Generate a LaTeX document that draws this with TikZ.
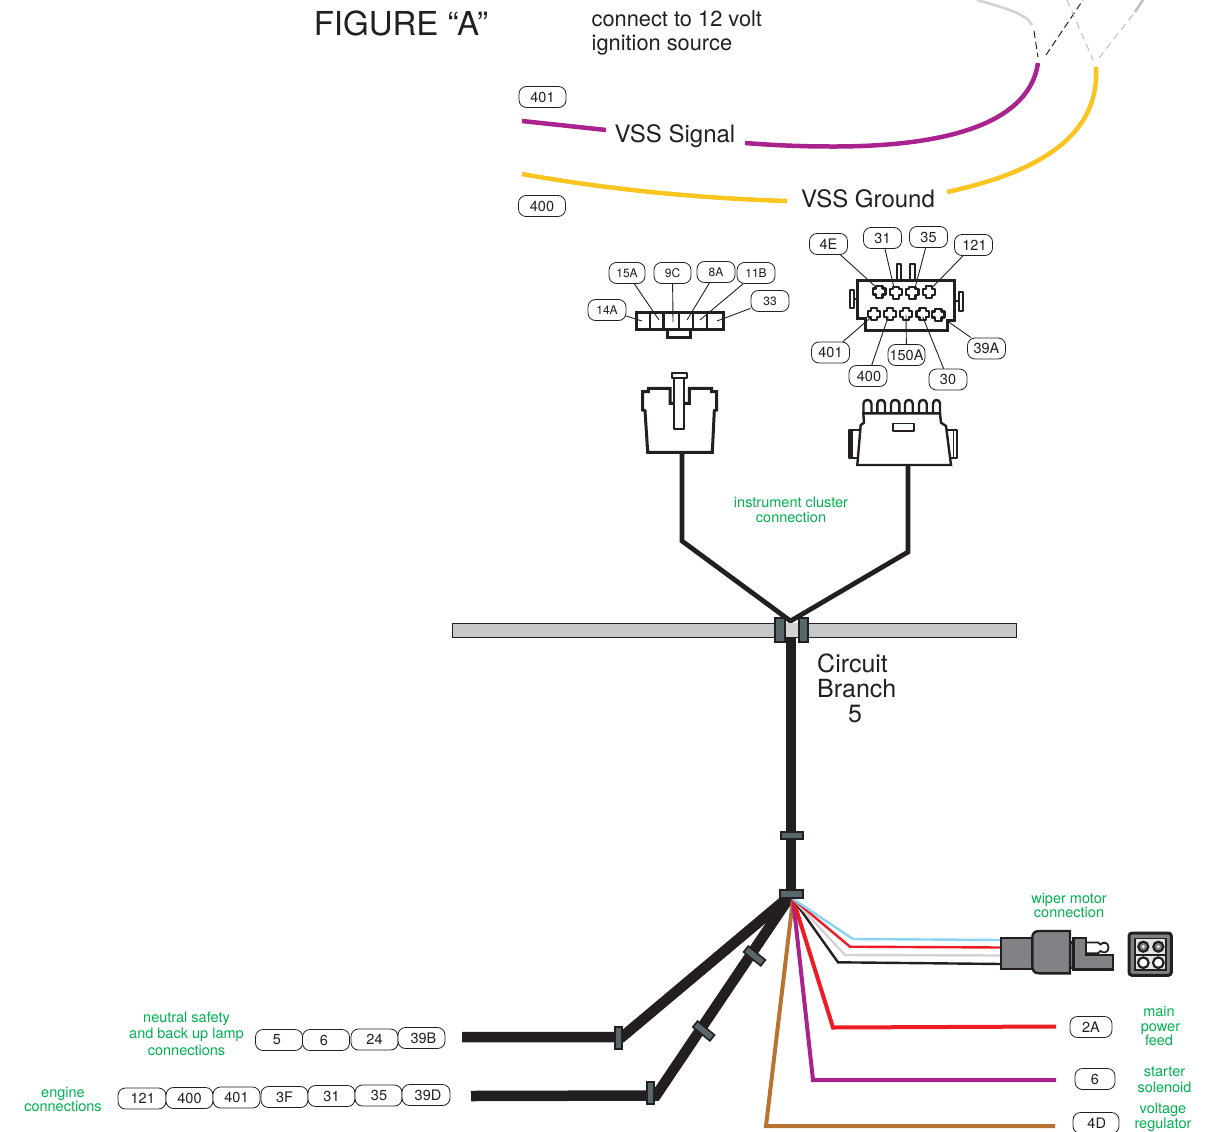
\documentclass[tikz,border=0pt]{standalone}
\usepackage{fontspec}
\setmainfont{TeX Gyre Heros}
\definecolor{grn}{HTML}{00B050}
\definecolor{purp}{HTML}{A9228E}
\definecolor{yel}{HTML}{FAC520}
\definecolor{wred}{HTML}{ED1C24}
\definecolor{brn}{HTML}{B87333}
\definecolor{lblue}{HTML}{8DD3F3}
\definecolor{lgray}{HTML}{D1D3D4}
\definecolor{mgray}{HTML}{BCBEC0}
\definecolor{ink}{HTML}{231F20}
\definecolor{clipg}{HTML}{58686A}
\definecolor{body}{HTML}{808285}
\tikzset{
  pill/.style={draw=ink,line width=.8pt,rounded corners=7.5pt,minimum height=21pt,inner sep=0pt,font=\fontsize{14.5}{16}\selectfont,text=ink,fill=white},
  tinypill/.style={pill,font=\fontsize{12}{14}\selectfont},
  leader/.style={draw=ink,line width=.9pt},
  housing/.style={draw=ink,line width=3pt,fill=white,line join=miter},
  thinhousing/.style={draw=ink,line width=2pt,fill=white,line join=round},
  harness/.style={draw=ink,line width=4.8pt,line join=miter},
  trunk/.style={draw=ink,line width=10.5pt,line join=miter},
  clipbox/.style={draw=ink,line width=1.6pt,fill=clipg,inner sep=0pt},
  grnlabel/.style={text=grn,font=\fontsize{14.5}{14.7}\selectfont,align=center,inner sep=0pt},
  biglabel/.style={text=ink,font=\fontsize{24}{25}\selectfont,inner sep=0pt},
  colwire/.style={line width=4pt,line join=miter},
  wipwire/.style={line width=2.4pt,line join=miter},
  darkbody/.style={draw=ink,line width=2.4pt,fill=body,line join=miter},
}
\newcommand{\myterm}[2]{\draw[shift={(#1,#2)},draw=ink,line width=2.2pt,fill=white,line join=round]
  (-3.2,-6)--(3.2,-6)--(3.2,-3.5)--(6.2,-3.5)--(6.2,2.5)--(3.2,2.5)--(3.2,6)--(-3.2,6)--(-3.2,2.5)--(-6.2,2.5)--(-6.2,-3.5)--(-3.2,-3.5)--cycle;}
\begin{document}
\begin{tikzpicture}[x=1pt,y=-1pt]
\useasboundingbox (0,0) rectangle (1226,1132);

% ---------- top wires
\coordinate (gA) at (977,0); \coordinate (gB) at (1032,25);
\coordinate (dA) at (1034,31); \coordinate (dB) at (1038,57);
\coordinate (dC) at (1046,55); \coordinate (dD) at (1083,0);
\coordinate (eA) at (1067,0); \coordinate (eB) at (1093,60);
\coordinate (eC) at (1099,58); \coordinate (eD) at (1135,12);
\coordinate (eE) at (1143,0);
\draw[lgray,line width=2.6pt] (gA) .. controls (1005,8) and (1027,14) .. (gB);
\draw[ink,line width=1pt,dash pattern=on 7pt off 4pt] (dA) -- (dB);
\draw[ink,line width=1pt,dash pattern=on 7pt off 4pt] (dC) -- (dD);
\draw[mgray,line width=1pt,dash pattern=on 7pt off 5pt] (eA) -- (eB);
\draw[mgray,line width=1pt,dash pattern=on 7pt off 5pt] (eC) -- (eD);
\draw[mgray,line width=2.6pt] (eD) -- (eE);

% ---------- VSS wires
\coordinate (pA) at (1038,63); \coordinate (pB) at (745,143);
\coordinate (pC) at (606,130); \coordinate (pD) at (522,121);
\coordinate (yA) at (1096,67); \coordinate (yB) at (947,192);
\coordinate (yC) at (787,201); \coordinate (yD) at (522,174);
\draw[purp,line width=4.5pt] (pA) .. controls (1030,118) and (960,147) .. (830,146.5) .. controls (800,146.5) and (770,145) .. (pB);
\draw[purp,line width=4.5pt] (pC) -- (pD);
\draw[yel,line width=4.5pt] (yA) .. controls (1100,135) and (1040,172) .. (yB);
\draw[yel,line width=4.5pt] (yC) .. controls (690,198) and (600,188) .. (yD);

\node[biglabel,text=ink,font=\fontsize{33}{34}\selectfont] (fig) at (401,23) {FIGURE “A”};
\node[text=ink,font=\fontsize{21.8}{24}\selectfont,align=left,inner sep=0pt,anchor=north west] (ign) at (591.5,10.5) {connect to 12 volt\\ignition source};
\node[biglabel] (vsss) at (675,136) {VSS Signal};
\node[biglabel] (vssg) at (868,199) {VSS Ground};
\node[pill,minimum width=47pt] (p401a) at (542.5,97) {401};
\node[pill,minimum width=47pt] (p400a) at (542,206) {400};

% ---------- small left connector diagram
\draw[housing] (667,329) rectangle (690,337);
\draw[housing] (636.5,312) rectangle (723,329);
\coordinate (dv1t) at (650,312); \coordinate (dv1b) at (650,329);
\coordinate (dv2t) at (663.5,312); \coordinate (dv2b) at (663.5,329);
\coordinate (dv3t) at (679,312); \coordinate (dv3b) at (679,329);
\coordinate (dv4t) at (693,312); \coordinate (dv4b) at (693,329);
\coordinate (dv5t) at (707,312); \coordinate (dv5b) at (707,329);
\foreach \d in {1,...,5}{\draw[ink,line width=2.2pt] (dv\d t) -- (dv\d b);}
\coordinate (t14A) at (642,321); \coordinate (t15A) at (659,320);
\coordinate (t9C) at (673,322); \coordinate (t8A) at (687,320);
\coordinate (t11B) at (700,320); \coordinate (t33) at (717,321);
\node[tinypill,minimum width=36pt] (l15A) at (627,273) {15A};
\node[tinypill,minimum width=37pt] (l9C) at (672.5,273) {9C};
\node[tinypill,minimum width=38pt] (l8A) at (716,272) {8A};
\node[tinypill,minimum width=38pt] (l11B) at (756,273) {11B};
\node[tinypill,minimum width=38pt] (l33) at (770,301) {33};
\node[tinypill,minimum width=38pt] (l14A) at (607,310) {14A};
\foreach \n in {14A,15A,9C,8A,11B,33}{\draw[leader] (l\n) -- (t\n);}

% ---------- small right connector diagram
\draw[thinhousing] (897,264) rectangle (901,280);
\draw[thinhousing] (910,264) rectangle (915,280);
\coordinate (stemLa) at (852,299); \coordinate (stemLb) at (858,299);
\coordinate (stemRa) at (954,301); \coordinate (stemRb) at (961,301);
\draw[ink,line width=2pt] (stemLa) -- (stemLb) (stemRa) -- (stemRb);
\draw[thinhousing] (850,290) rectangle (854,308);
\draw[thinhousing] (959,292) rectangle (962.7,311);
\draw[housing] (857.3,280) -- (954.5,280) -- (954.5,320) -- (947.3,320) -- (947.3,330) -- (865,330) -- (865,318.3) -- (857.3,318.3) -- cycle;
\myterm{879.3}{292}\myterm{896}{292.7}\myterm{912.3}{292.7}\myterm{929}{292.3}
\myterm{874}{314.3}\myterm{890}{314.3}\myterm{906}{314.3}\myterm{922.7}{314.3}\myterm{938.3}{315}
\coordinate (r4E) at (877,288); \coordinate (r31) at (894,288);
\coordinate (r35) at (915,288); \coordinate (r121) at (931.7,288);
\coordinate (r401) at (871.7,316.7); \coordinate (r400) at (888.3,316.7);
\coordinate (r150A) at (906,315); \coordinate (r30) at (922.7,316.7);
\coordinate (r39A) at (948.3,321.7);
\node[pill,minimum width=38pt] (n4E) at (828.5,244) {4E};
\node[pill,minimum width=38pt] (n31) at (882.5,238) {31};
\node[pill,minimum width=38pt] (n35) at (928.5,237) {35};
\node[pill,minimum width=38pt] (n121) at (973.5,245) {\hspace{2pt}121};
\node[pill,minimum width=38pt] (n401) at (830.5,352.5) {401};
\node[pill,minimum width=38pt] (n400) at (868,376) {\hspace{2pt}400};
\node[pill,minimum width=37pt] (n150A) at (906.5,355) {150A};
\node[pill,minimum width=38pt] (n30) at (948,379.5) {30};
\node[pill,minimum width=38pt] (n39A) at (986.5,348.5) {39A};
\foreach \n in {4E,31,35,121,401,400,150A,30,39A}{\draw[leader] (n\n) -- (r\n);}

% ---------- large left plug
\coordinate (wLt) at (682,452); \coordinate (wLm) at (682,541);
\coordinate (wRt) at (908,465); \coordinate (wRm) at (908,552);
\coordinate (apex) at (790.5,621);
\draw[harness] (wLt) -- (wLm) -- (apex) -- (wRm) -- (wRt);

\draw[housing] (642.7,391.7) -- (648.3,391.7) -- (648.3,388.3) -- (670,388.3) -- (670,403.3) -- (674.3,403.3)
  -- (689.3,403.3) -- (689.3,388.3) -- (711.7,388.3) -- (711.7,391.7) -- (716.7,391.7) -- (716.7,410) -- (714.3,410.7)
  -- (712.3,452.3) -- (647.7,452.3) -- (645,410.7) -- (642.7,410) -- cycle;
\draw[thinhousing] (674.3,377) rectangle (684,429.3);
\draw[thinhousing] (672.3,372.7) rectangle (687.3,377.7);

% ---------- large right plug
\draw[thinhousing] (848.5,430) rectangle (860,458.3);
\draw[thinhousing] (947,430) rectangle (957.3,458.3);
\draw[ink,line width=3pt] (851,430) -- (851,458.3);
\draw[ink,line width=1.5pt] (953.5,430) -- (953.5,458.3);
\foreach \a/\b in {863.5/871.5,877.3/885,891/899.3,905/912.7,919/926.7,933/940}{
  \draw[ink,line width=2.4pt,fill=white] (\a,414) -- (\a,403.5) .. controls (\a,398.8) and (\b,398.8) .. (\b,403.5) -- (\b,414);}
\draw[housing,line width=2.4pt] (863.3,413.3) -- (864,422.7) -- (860.7,425) -- (857.3,465) -- (951,465) -- (946,426) -- (941,422.7) -- (940,413.3) -- cycle;
\draw[thinhousing,line width=1.8pt] (893,423.5) rectangle (914,431);

% ---------- bar and main trunk
\node[draw=ink,line width=.9pt,fill=mgray!85!white,minimum width=564pt,minimum height=14pt,inner sep=0pt] (bar) at (734,630) {};
\fill[lgray] (785,623) rectangle (799,637);
\coordinate (trunkTop) at (791,637);
\coordinate (hub) at (791,895);
\draw[ink,line width=10.8pt] (trunkTop) -- (hub);
\node[clipbox,minimum width=9.5pt,minimum height=24pt] (c1) at (780,630) {};
\node[clipbox,minimum width=8.5pt,minimum height=24pt] (c2) at (803.5,630) {};
\node[clipbox,minimum width=22pt,minimum height=7pt] (c3) at (792,835.5) {};
\node[biglabel,align=left,anchor=north west,font=\fontsize{25}{25}\selectfont] (cb) at (817,653.5) {Circuit\\Branch};
\node[biglabel,font=\fontsize{25}{25}\selectfont] (cb5) at (855,714) {5};
\node[grnlabel] (gcl) at (791,510) {instrument cluster\\connection};

% ---------- trunk branches
\coordinate (b1a) at (622,1037); \coordinate (b1e) at (462,1037);
\coordinate (b2a) at (656,1095.5); \coordinate (b2e) at (471,1096);
\draw[trunk] (hub) -- (b1a) -- (b1e);
\draw[trunk] (hub) -- (b2a) -- (b2e);

% ---------- coloured wires
\coordinate (fan) at (793,899);
\coordinate (brnB) at (766,1126); \coordinate (brnE) at (1055,1126);
\coordinate (purB) at (813,1080); \coordinate (purE) at (1056,1080);
\coordinate (redB) at (833,1027.5); \coordinate (redE) at (1056,1026.5);
\draw[brn,colwire] (fan) -- (brnB) -- (brnE);
\draw[purp,colwire] (fan) -- (purB) -- (purE);
\draw[wred,colwire] (fan) -- (redB) -- (redE);
\coordinate (w1b) at (853,939); \coordinate (w1e) at (1002,940);
\coordinate (w2b) at (850,946.7); \coordinate (w2e) at (1002,947.5);
\coordinate (w3b) at (845,955); \coordinate (w3e) at (1002,955.5);
\coordinate (w4b) at (838,962.3); \coordinate (w4e) at (1002,964);
\draw[ink,wipwire] (fan) -- (w4b) -- (w4e);
\draw[lgray,wipwire] (fan) -- (w3b) -- (w3e);
\draw[wred,wipwire] (fan) -- (w2b) -- (w2e);
\draw[lblue,wipwire] (fan) -- (w1b) -- (w1e);

\node[clipbox,minimum width=23pt,minimum height=7.5pt] (c4) at (791.5,894) {};
\node[clipbox,minimum width=7.5pt,minimum height=22pt] (c5) at (618.5,1038) {};
\node[clipbox,minimum width=7.5pt,minimum height=22pt] (c6) at (650.5,1093) {};
\node[clipbox,minimum width=22pt,minimum height=7.5pt,rotate=-39] (c7) at (754.5,956) {};
\node[clipbox,minimum width=22pt,minimum height=7.5pt,rotate=-39] (c8) at (703.7,1031) {};

% ---------- wiper connector
\draw[darkbody] (1001,937.7) rectangle (1033,969);
\draw[darkbody] (1070,942.3) rectangle (1073.3,967.7);
\draw[ink,line width=1.8pt,fill=white] (1086,942.5) -- (1098,942.5) -- (1100.5,944.5) .. controls (1103,941.5) and (1108.5,942) .. (1108.5,947.5) .. controls (1108.5,953) and (1103,953.5) .. (1100.5,951) -- (1098,953.3) -- (1086,953.3);
\draw[darkbody] (1073.3,937.7) -- (1086,937.7) -- (1086,955) -- (1113,955) -- (1113,969.3) -- (1073.3,969.3) -- cycle;
\draw[darkbody] (1070,931) -- (1070,973.3) -- (1039,973.3) .. controls (1034,973.3) and (1032.3,970) .. (1032.3,966) -- (1032.3,938) .. controls (1032.3,934) and (1034,931) .. (1039,931) -- cycle;
\draw[ink,line width=3pt,fill=body,rounded corners=3pt] (1129,933) rectangle (1171.3,975.3);
\draw[ink,line width=1.5pt,fill=lgray!60!white] (1135,938.5) rectangle (1166,970);
\draw[ink,line width=1.5pt] (1135,955) -- (1166,955);
\foreach \cx in {1143.3,1158.3}{
  \draw[ink,line width=2.2pt,fill=body] (\cx,946.7) circle[radius=5];
  \fill[white] (\cx,946.7) circle[radius=1.6];
  \draw[ink,line width=2.2pt,fill=white] (\cx,962.7) circle[radius=5.3];}
\node[grnlabel,font=\fontsize{14.5}{14}\selectfont] (gwp) at (1069,905) {wiper motor\\connection};

% ---------- bottom labels
\node[grnlabel,font=\fontsize{14.5}{16.5}\selectfont] (gns) at (186.5,1033.5) {neutral safety\\and back up lamp\\connections};
\node[pill,minimum width=47pt] (a5) at (279,1040) {5\rule{4pt}{0pt}};
\node[pill,minimum width=47pt] (a6) at (326,1040) {6\rule{4pt}{0pt}};
\node[pill,minimum width=47pt] (a24) at (374.5,1039.5) {24};
\node[pill,minimum width=47pt] (a39B) at (421.5,1038) {\hspace{4pt}39B};
\node[grnlabel,font=\fontsize{14.5}{14}\selectfont] (gen) at (63,1099) {engine\\connections};
\node[pill,minimum width=48pt] (e121) at (142,1098.5) {\hspace{1.5pt}121};
\node[pill,minimum width=47pt] (e400) at (189.5,1098) {400};
\node[pill,minimum width=47pt] (e401) at (236.5,1097.5) {401};
\node[pill,minimum width=47pt] (e3F) at (284.5,1097) {3F};
\node[pill,minimum width=47pt] (e31) at (331.5,1096) {31};
\node[pill,minimum width=47pt] (e35) at (378.5,1095.5) {\hspace{1pt}35};
\node[pill,minimum width=48pt] (e39D) at (426,1095) {\hspace{4pt}39D};

\node[pill,minimum width=42pt] (r2A) at (1091,1027) {2A};
\node[pill,minimum width=40pt] (r6) at (1095,1079) {6};
\node[pill,minimum width=46pt] (r4D) at (1096,1123) {\hspace{1.5pt}4D};
\node[grnlabel] (gm) at (1159,1026) {main\\\hspace{3pt}power\\feed};
\node[grnlabel,font=\fontsize{14.5}{16}\selectfont] (gs) at (1164.5,1080) {starter\\solenoid};
\node[grnlabel] (gv) at (1163,1117) {voltage\\regulator};
\end{tikzpicture}
\end{document}
